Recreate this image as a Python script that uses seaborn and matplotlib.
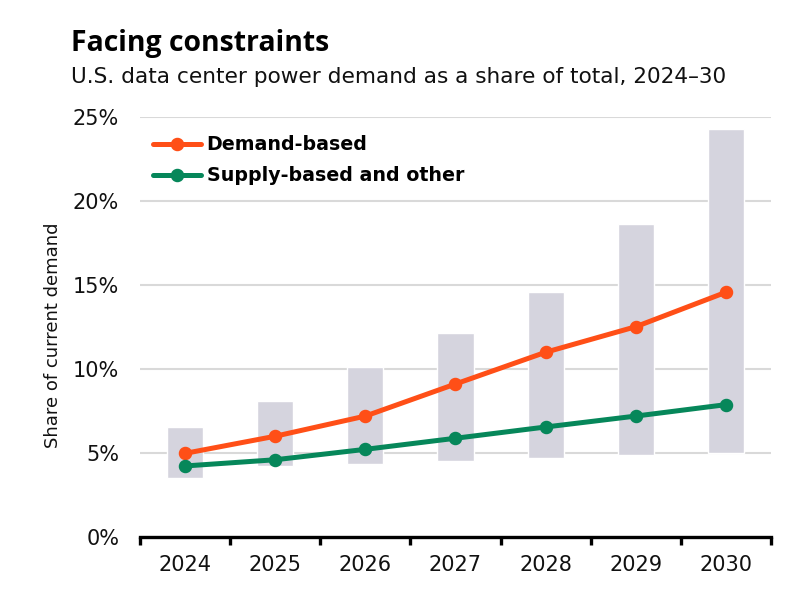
import matplotlib
matplotlib.use("Agg")
import matplotlib.pyplot as plt
import seaborn as sns
import pandas as pd

# 数据（从图上读出来的，单位：%）
years = ["2024", "2025", "2026", "2027", "2028", "2029", "2030"]
range_low = [3.5, 4.2, 4.35, 4.5, 4.67, 4.84, 5.0]
range_high = [6.53, 8.06, 10.08, 12.1, 14.55, 18.6, 24.25]
demand_based = [4.96, 5.98, 7.18, 9.09, 10.98, 12.5, 14.55]
supply_based = [4.21, 4.58, 5.2, 5.86, 6.53, 7.18, 7.86]
series_names = ["Demand-based", "Supply-based and other"]
y_ticks = [0, 5, 10, 15, 20, 25]

ORANGE = "#FF4F17"
GREEN = "#06875A"
GRAY = "#D5D4DE"

sns.set_theme(style="white")
plt.rcParams["font.family"] = ["DejaVu Sans"]

fig = plt.figure(figsize=(7.91, 5.89), dpi=100)
ax = fig.add_axes([140 / 791, 52.3 / 589, 631 / 791, 420 / 589])

# 灰色区间柱
heights = [h - l for h, l in zip(range_high, range_low)]
sns.barplot(x=years, y=heights, bottom=range_low, color=GRAY, saturation=1,
            width=0.4, errorbar=None, ax=ax, zorder=2)

# 两条折线
lines = pd.DataFrame({
    "year": years * 2,
    "value": demand_based + supply_based,
    "series": [series_names[0]] * len(years) + [series_names[1]] * len(years),
})
sns.pointplot(data=lines, x="year", y="value", hue="series", order=years,
              hue_order=series_names, palette=[ORANGE, GREEN], markers="o",
              markersize=7, linewidth=3.6, errorbar=None, dodge=False, ax=ax)

ax.set_xlim(-0.5, 6.5)
ax.set_ylim(0, 25)
ax.set_yticks(y_ticks)
ax.set_yticklabels([f"{v}%" for v in y_ticks])
ax.set_axisbelow(True)
ax.yaxis.grid(True, color="#D9D9D9", linewidth=1.5)
ax.xaxis.grid(False)

for s in ["top", "left", "right"]:
    ax.spines[s].set_visible(False)
ax.spines["bottom"].set_color("black")
ax.spines["bottom"].set_linewidth(2.4)
ax.spines["bottom"].set_zorder(5)

ax.set_xticks([i - 0.5 for i in range(len(years) + 1)], minor=True)
ax.tick_params(axis="x", which="minor", length=6, width=2.4, color="black",
               direction="out", bottom=True)
ax.tick_params(axis="x", which="major", length=0, pad=13, labelsize=15,
               labelcolor="#111111")
ax.tick_params(axis="y", length=0, pad=15, labelsize=15, labelcolor="#111111")

ax.set_xlabel("")
ax.set_ylabel("Share of current demand", fontsize=13, color="#111111")
ax.yaxis.set_label_coords(-0.123, 0.48)

handles, labels = ax.get_legend_handles_labels()
leg = ax.legend(handles, labels, loc="upper left", bbox_to_anchor=(0.0, 0.987),
                frameon=False, handlelength=2.5, handletextpad=0.3,
                labelspacing=0.62, borderaxespad=0.3,
                prop={"weight": "bold", "size": 13.7})
for line in leg.get_lines():
    line.set_linewidth(3.6)
for t in leg.get_texts():
    t.set_color("black")

fig.text(70.7 / 791, 1 - 50.7 / 589, "Facing constraints", fontsize=20.4,
         fontweight="bold", color="black", va="baseline",
         family=["Open Sans", "DejaVu Sans"])
fig.text(70.7 / 791, 1 - 83 / 589,
         "U.S. data center power demand as a share of total, 2024\u201330",
         fontsize=15.6, color="#111111", va="baseline")

fig.savefig("out.png", dpi=100)
